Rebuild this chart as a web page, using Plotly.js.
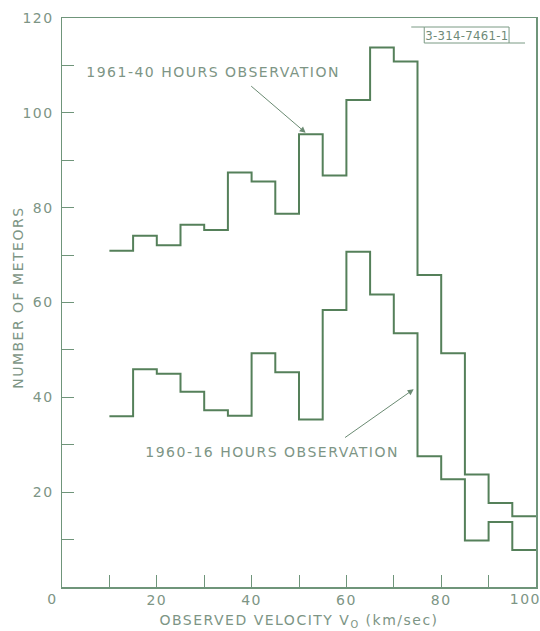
<!DOCTYPE html>
<html>
<head>
<meta charset="utf-8">
<script src="https://cdn.plot.ly/plotly-3.0.1.min.js"></script>
<style>
html,body{margin:0;padding:0;background:#fff;}
#chart{width:540px;height:631px;}
#chart text{letter-spacing:1.5px;}
#chart .boxlabel text, #chart text.boxlabel{letter-spacing:0.5px;}
</style>
</head>
<body>
<div id="chart"></div>
<script>
// Bin edges (km/sec) — 5 km/sec bins from 10 to 100
var binEdges = [10,15,20,25,30,35,40,45,50,55,60,65,70,75,80,85,90,95,100];
// Number of meteors per bin
var counts1961 = [70.9,74.1,72.1,76.4,75.3,87.4,85.5,78.7,95.5,86.8,102.7,113.8,110.8,65.8,49.3,23.7,17.7,14.9];
var counts1960 = [36.0,45.9,45.0,41.2,37.3,36.1,49.3,45.3,35.3,58.4,70.7,61.7,53.5,27.6,22.7,9.8,13.7,7.8];
var label1961 = "1961-40 HOURS OBSERVATION";
var label1960 = "1960-16 HOURS OBSERVATION";
var figLabel = "3-314-7461-1";
var xTickVals = [0,10,20,30,40,50,60,70,80,90,100];
var xTickText = ["","","20","","40","","60","","80","",""];
var yTickVals = [0,10,20,30,40,50,60,70,80,90,100,110,120];
var yTickText = ["","","20","","40","","60","","80","","100","","120"];

function stepY(vals){ return vals.concat([vals[vals.length-1]]); }

var lineColor = "#55805a";
var textColor = "#7d9585";
var fontFam = "DejaVu Sans, Liberation Sans, sans-serif";

var traces = [
  {x: binEdges, y: stepY(counts1961), mode: "lines", line: {shape: "hv", color: lineColor, width: 2}, hoverinfo: "none", showlegend: false},
  {x: binEdges, y: stepY(counts1960), mode: "lines", line: {shape: "hv", color: lineColor, width: 2}, hoverinfo: "none", showlegend: false}
];

function px2x(p){ return (p-62)/475; }
function py2y(p){ return (587-p)/569; }

var layout = {
  width: 540, height: 631,
  margin: {l: 62, r: 4, t: 18, b: 44},
  paper_bgcolor: "#fff", plot_bgcolor: "#fff",
  font: {family: fontFam, color: textColor, size: 14},
  xaxis: {
    range: [0, 100], showgrid: false, zeroline: false,
    showline: true, mirror: true, linecolor: "#6f957a", linewidth: 1.5,
    ticks: "inside", ticklen: 12, tickwidth: 1, tickcolor: "#6f957a",
    tickmode: "array", tickvals: xTickVals, ticktext: xTickText,
    tickfont: {size: 14, color: textColor, family: fontFam},
    title: {text: "OBSERVED VELOCITY V<sub>O</sub> (km/sec)", font: {size: 14, color: textColor, family: fontFam}, standoff: 8}
  },
  yaxis: {
    range: [0, 120], showgrid: false, zeroline: false,
    showline: true, mirror: true, linecolor: "#6f957a", linewidth: 1.5,
    ticks: "inside", ticklen: 12, tickwidth: 1, tickcolor: "#6f957a",
    tickmode: "array", tickvals: yTickVals, ticktext: yTickText,
    tickfont: {size: 14, color: textColor, family: fontFam},
    ticklabelstandoff: 4
  },
  annotations: [
    {xref: "paper", yref: "paper", x: px2x(18), y: py2y(298), text: "NUMBER OF METEORS", textangle: -90, showarrow: false, xanchor: "center", yanchor: "middle", font: {size: 14, color: textColor}},
    {xref: "paper", yref: "paper", x: px2x(52.5), y: py2y(599), text: "0", showarrow: false, xanchor: "center", yanchor: "middle", font: {size: 14, color: textColor}},
    {xref: "paper", yref: "paper", x: px2x(526), y: py2y(599), text: "100", showarrow: false, xanchor: "center", yanchor: "middle", font: {size: 14, color: textColor}},
    {xref: "x", yref: "y", x: 31.9, y: 108.6, text: label1961, showarrow: false, xanchor: "center", yanchor: "middle", font: {size: 14, color: textColor}},
    {xref: "x", yref: "y", x: 44.2, y: 28.4, text: label1960, showarrow: false, xanchor: "center", yanchor: "middle", font: {size: 14, color: textColor}},
    {xref: "x", yref: "y", x: 51.4, y: 95.8, axref: "x", ayref: "y", ax: 39.6, ay: 105.9, text: "", showarrow: true, arrowhead: 2, arrowsize: 1.2, arrowwidth: 1, arrowcolor: "#6a8a72"},
    {xref: "x", yref: "y", x: 74.2, y: 41.7, axref: "x", ayref: "y", ax: 59.4, ay: 31.3, text: "", showarrow: true, arrowhead: 2, arrowsize: 1.2, arrowwidth: 1, arrowcolor: "#6a8a72"},
    {xref: "paper", yref: "paper", x: px2x(467.5), y: py2y(35.5), text: figLabel, showarrow: false, xanchor: "center", yanchor: "middle", font: {size: 13, color: "#6f8a78", family: "DejaVu Sans Condensed, Liberation Sans Narrow, sans-serif"}}
  ],
  shapes: [
    {type: "rect", xref: "paper", yref: "paper", x0: px2x(425), x1: px2x(510), y0: py2y(43), y1: py2y(27), line: {color: "#7a9a84", width: 1}},
    {type: "line", xref: "paper", yref: "paper", x0: px2x(412), x1: px2x(425), y0: py2y(27), y1: py2y(27), line: {color: "#7a9a84", width: 1}},
    {type: "line", xref: "paper", yref: "paper", x0: px2x(510), x1: px2x(526), y0: py2y(43), y1: py2y(43), line: {color: "#7a9a84", width: 1}}
  ]
};

Plotly.newPlot("chart", traces, layout, {staticPlot: true, displayModeBar: false}).then(function(gd){
  var anns = gd.querySelectorAll(".annotation-text");
  anns.forEach(function(t){ if (t.textContent === figLabel) { t.style.letterSpacing = "0.3px"; } });
});
</script>
</body>
</html>
